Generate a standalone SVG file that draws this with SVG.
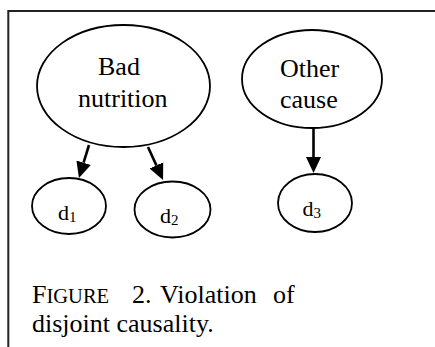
<svg xmlns="http://www.w3.org/2000/svg" width="435" height="347" viewBox="0 0 435 347">
<defs>
<style>
text{font-family:'Liberation Serif','Times New Roman','DejaVu Serif',serif;fill:#000}
.node{fill:#fff;stroke:#000;stroke-width:1.8}
.lbl{font-size:26px}
.dl{font-size:22px}
.sub{font-size:15px}
.edge{stroke:#000;stroke-width:2.6;fill:none}
.frame{stroke:#222;stroke-width:2;fill:none}
.cap{font-size:26px}
</style>
<marker id="ah" viewBox="0 0 16 16" markerWidth="16" markerHeight="16" markerUnits="userSpaceOnUse" refX="0" refY="8" orient="auto">
<path d="M0,0.5 L16,8 L0,15.5 z" fill="#000"/>
</marker>
</defs>
<rect width="435" height="347" fill="#fff"/>
<path class="frame" d="M8.3,347 V11 H435"/>
<g id="connectors">
<line class="edge" x1="89" y1="145" x2="83.6" y2="162.7" marker-end="url(#ah)"/>
<line class="edge" x1="148" y1="147" x2="156.4" y2="165.4" marker-end="url(#ah)"/>
<line class="edge" x1="313.5" y1="128" x2="313.5" y2="157" marker-end="url(#ah)"/>
</g>
<g id="bad-nutrition">
<ellipse class="node" cx="123.5" cy="86" rx="86.5" ry="61"/>
<text class="lbl" x="98" y="74.5" font-family="Liberation Serif, serif">Bad</text>
<text class="lbl" x="78" y="106.5" font-family="Liberation Serif, serif">nutrition</text>
</g>
<g id="other-cause">
<ellipse class="node" cx="312" cy="79" rx="70" ry="49"/>
<text class="lbl" x="280" y="77">Other</text>
<text class="lbl" x="280" y="108">cause</text>
</g>
<g id="d1">
<ellipse class="node" cx="69" cy="206" rx="37" ry="28"/>
<text class="dl" x="58" y="220">d<tspan class="sub" dy="2">1</tspan></text>
</g>
<g id="d2">
<ellipse class="node" cx="172.5" cy="209.5" rx="38" ry="28"/>
<text class="dl" x="160" y="223">d<tspan class="sub" dy="2">2</tspan></text>
</g>
<g id="d3">
<ellipse class="node" cx="315" cy="203" rx="37" ry="29"/>
<text class="dl" x="302.5" y="216">d<tspan class="sub" dy="2">3</tspan></text>
</g>
<g id="caption">
<text class="cap" x="32" y="303">F<tspan font-size="20.5">IGURE</tspan></text>
<text class="cap" x="132" y="303">2.</text>
<text class="cap" x="160" y="303">Violation</text>
<text class="cap" x="273" y="303">of</text>
<text class="cap" x="32" y="331.5">disjoint causality.</text>
</g>
</svg>
